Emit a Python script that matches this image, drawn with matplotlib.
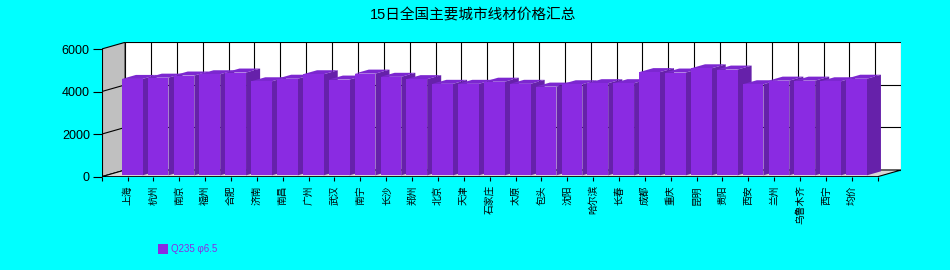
import numpy as np
import matplotlib
matplotlib.use('Agg')
import matplotlib.pyplot as plt
from matplotlib.patches import Polygon, Rectangle

plt.rcParams['font.family'] = ['Liberation Sans', 'Noto Sans CJK SC', 'DejaVu Sans']

# 数据
cities = ['上海', '杭州', '南京', '福州', '合肥', '济南', '南昌', '广州', '武汉', '南宁',
          '长沙', '郑州', '北京', '天津', '石家庄', '太原', '包头', '沈阳', '哈尔滨', '长春',
          '成都', '重庆', '昆明', '贵阳', '西安', '兰州', '乌鲁木齐', '西宁', '均价']
prices = [4530, 4590, 4690, 4750, 4830, 4420, 4540, 4750, 4500, 4780,
          4630, 4520, 4300, 4300, 4400, 4300, 4170, 4280, 4330, 4330,
          4850, 4830, 5030, 4970, 4280, 4450, 4450, 4420, 4540]
y_ticks = [0, 2000, 4000, 6000]
title = '15日全国主要城市线材价格汇总'
series_name = 'Q235 φ6.5'

bg = '#00FFFF'
bar_front = '#8A2BE2'
bar_top = '#7C27D0'
bar_side = '#6621AA'

# 3D 效果的深度偏移（数据单位）
depth_x, depth_y = 0.908, 315
d0, d1 = 0.2, 0.8
n = len(cities)
x_max = n + 1
y_max = y_ticks[-1]

fig = plt.figure(figsize=(9.5, 2.7), dpi=100, facecolor=bg)
ax = fig.add_axes([0.107, 0.3456, 0.8416, 0.4977])
ax.set_xlim(0, x_max + depth_x)
ax.set_ylim(0, y_max + depth_y)
ax.patch.set_visible(False)
for s in ax.spines.values():
    s.set_visible(False)

# 背墙
ax.add_patch(Rectangle((depth_x, depth_y), x_max, y_max, facecolor='white',
                       edgecolor='black', lw=0.8, zorder=0))
for t in y_ticks[1:-1]:
    ax.plot([depth_x, x_max + depth_x], [t + depth_y] * 2, color='black', lw=0.8, zorder=0.5)
for k in range(1, x_max):
    ax.plot([k + depth_x] * 2, [depth_y, y_max + depth_y], color='black', lw=0.8, zorder=0.5)

# 左墙
ax.add_patch(Polygon([(0, 0), (depth_x, depth_y), (depth_x, y_max + depth_y), (0, y_max)],
                     closed=True, facecolor='#C0C0C0', edgecolor='black', lw=0.8, zorder=1))
for t in y_ticks[1:-1]:
    ax.plot([0, depth_x], [t, t + depth_y], color='black', lw=0.8, zorder=1.2)

# 地板
ax.add_patch(Polygon([(0, 0), (x_max, 0), (x_max + depth_x, depth_y), (depth_x, depth_y)],
                     closed=True, facecolor='#D6D6D6', edgecolor='black', lw=0.8, zorder=1))

# 柱子
pos = np.arange(1, n + 1)
w = 0.4
fx = pos + d0 * depth_x
fy = d0 * depth_y
ddx = (d1 - d0) * depth_x
ddy = (d1 - d0) * depth_y
ax.bar(fx, prices, width=2 * w, bottom=fy, color=bar_front, zorder=3)
for x, v in zip(fx, prices):
    top = v + fy
    ax.add_patch(Polygon([(x + w, fy), (x + w + ddx, fy + ddy), (x + w + ddx, top + ddy), (x + w, top)],
                         closed=True, facecolor=bar_side, edgecolor='none', zorder=2))
    ax.add_patch(Polygon([(x - w, top), (x + w, top), (x + w + ddx, top + ddy), (x - w + ddx, top + ddy)],
                         closed=True, facecolor=bar_top, edgecolor='none', zorder=2))

# 前边框
ax.plot([0, 0], [0, y_max], color='black', lw=0.8, zorder=4)
ax.plot([0, x_max], [0, 0], color='black', lw=0.8, zorder=4)

# 刻度
ax.set_yticks(y_ticks)
ax.set_yticklabels([str(t) for t in y_ticks])
ax.tick_params(axis='y', length=6.5, width=0.8, pad=2, labelsize=9, colors='black')
ax.set_xticks(range(0, x_max + 1))
ax.set_xticklabels([''] + cities + [''])
ax.tick_params(axis='x', length=3, width=0.8, pad=3, labelsize=7, labelrotation=90)

fig.text(0.498, 0.944, title, ha='center', va='center', fontsize=10.5)

# 图例
fig.add_artist(Rectangle((158 / 950, 16 / 270), 10 / 950, 10 / 270,
                         transform=fig.transFigure, facecolor=bar_front, edgecolor='none'))
fig.text(171 / 950, 21 / 270, series_name, ha='left', va='center', fontsize=7, color=bar_front)

fig.savefig('out.png', dpi=100, facecolor=bg)
